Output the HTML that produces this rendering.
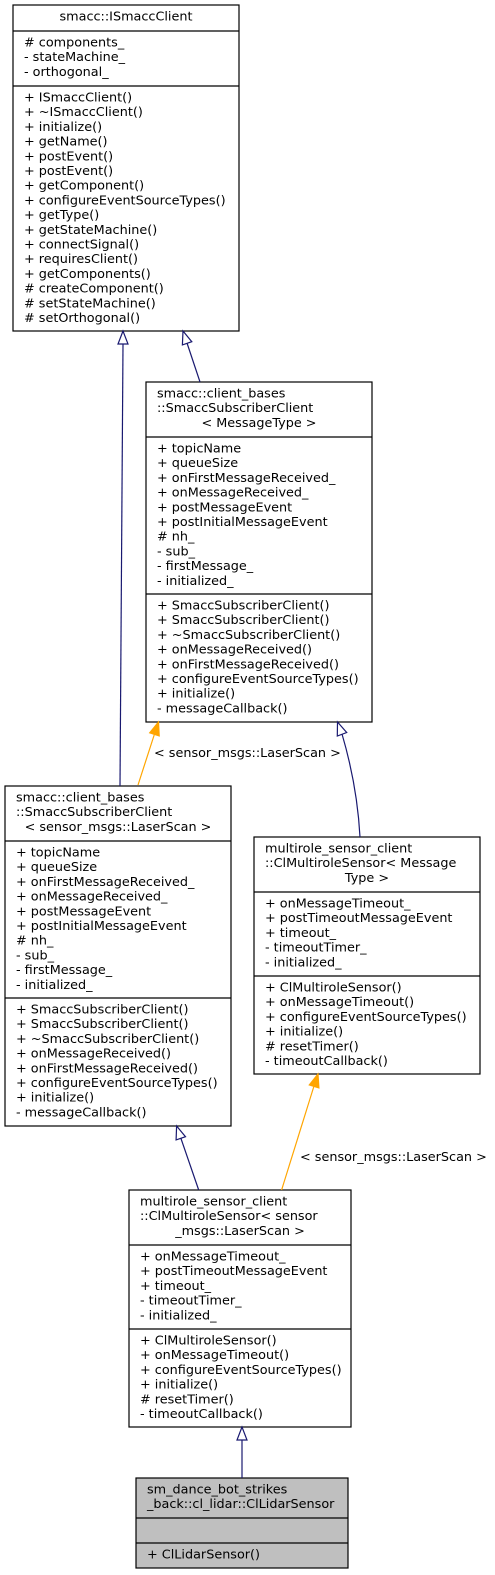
<!DOCTYPE html>
<html><head><meta charset="utf-8"><style>
html,body{margin:0;padding:0;background:#fff;}
svg{display:block;}
text{font-family:"DejaVu Sans","Liberation Sans",sans-serif;font-size:12.8px;fill:#000;}
</style></head><body>
<svg width="495" height="1575" viewBox="0 0 495 1575" xmlns="http://www.w3.org/2000/svg">
<g fill="#fff" stroke="#000" stroke-width="1.2">
<rect x="13" y="5" width="226" height="326"/>
<line x1="13" y1="31" x2="239" y2="31"/><line x1="13" y1="86" x2="239" y2="86"/>
<rect x="146" y="382" width="226" height="340"/>
<line x1="146" y1="437" x2="372" y2="437"/><line x1="146" y1="594" x2="372" y2="594"/>
<rect x="5" y="786" width="226" height="340"/>
<line x1="5" y1="841" x2="231" y2="841"/><line x1="5" y1="998" x2="231" y2="998"/>
<rect x="254" y="837" width="226" height="237"/>
<line x1="254" y1="892" x2="480" y2="892"/><line x1="254" y1="976" x2="480" y2="976"/>
<rect x="129" y="1190" width="222" height="237"/>
<line x1="129" y1="1245" x2="351" y2="1245"/><line x1="129" y1="1329" x2="351" y2="1329"/>
<rect x="136" y="1478" width="212" height="90" fill="#bfbfbf"/>
<line x1="136" y1="1518" x2="348" y2="1518"/><line x1="136" y1="1543" x2="348" y2="1543"/>
</g>
<!-- edges -->
<g fill="none" stroke-width="1.2">
<path d="M120,786 L123,344" stroke="#191970"/>
<path d="M200,382 L187,343" stroke="#191970"/>
<path d="M138,785 L154.5,734" stroke="#ffa500"/>
<path d="M360,837 C358,800 352,768 342,734" stroke="#191970"/>
<path d="M198.7,1190 L180.8,1138" stroke="#191970"/>
<path d="M281.6,1190 L314,1086" stroke="#ffa500"/>
<path d="M242,1478 L242,1440" stroke="#191970"/>
</g>
<g stroke-width="1.2">
<polygon points="123,331 118,344 128,344" fill="#fff" stroke="#191970"/>
<polygon points="183,331 191.8,341.7 182.4,344.9" fill="#fff" stroke="#191970"/>
<polygon points="158.5,722 159.2,735.9 149.7,732.8" fill="#ffa500" stroke="#ffa500"/>
<polygon points="337.5,722 346.7,732.5 337.3,736" fill="#fff" stroke="#191970"/>
<polygon points="176.6,1126 185.5,1136.7 176.1,1139.9" fill="#fff" stroke="#191970"/>
<polygon points="318,1074 318.9,1087.9 309.3,1084.9" fill="#ffa500" stroke="#ffa500"/>
<polygon points="242,1427 237,1440 247,1440" fill="#fff" stroke="#191970"/>
</g>
<text x="154" y="757">&lt; sensor_msgs::LaserScan &gt;</text>
<text x="300" y="1161">&lt; sensor_msgs::LaserScan &gt;</text>

<!-- Box A -->
<text x="126" y="20.5" text-anchor="middle">smacc::ISmaccClient</text>
<text x="24" y="46.5"><tspan x="24">#&#160;components_</tspan><tspan x="24" dy="14.7">-&#160;stateMachine_</tspan><tspan x="24" dy="14.7">-&#160;orthogonal_</tspan></text>
<text x="24" y="101.5"><tspan x="24">+&#160;ISmaccClient()</tspan><tspan x="24" dy="14.7">+&#160;~ISmaccClient()</tspan><tspan x="24" dy="14.7">+&#160;initialize()</tspan><tspan x="24" dy="14.7">+&#160;getName()</tspan><tspan x="24" dy="14.7">+&#160;postEvent()</tspan><tspan x="24" dy="14.7">+&#160;postEvent()</tspan><tspan x="24" dy="14.7">+&#160;getComponent()</tspan><tspan x="24" dy="14.7">+&#160;configureEventSourceTypes()</tspan><tspan x="24" dy="14.7">+&#160;getType()</tspan><tspan x="24" dy="14.7">+&#160;getStateMachine()</tspan><tspan x="24" dy="14.7">+&#160;connectSignal()</tspan><tspan x="24" dy="14.7">+&#160;requiresClient()</tspan><tspan x="24" dy="14.7">+&#160;getComponents()</tspan><tspan x="24" dy="14.7">#&#160;createComponent()</tspan><tspan x="24" dy="14.7">#&#160;setStateMachine()</tspan><tspan x="24" dy="14.7">#&#160;setOrthogonal()</tspan></text>

<!-- Box B -->
<text x="157" y="397.5"><tspan x="157">smacc::client_bases</tspan><tspan x="157" dy="14.7">::SmaccSubscriberClient</tspan></text>
<text x="259" y="426.9" text-anchor="middle">&lt; MessageType &gt;</text>
<text x="157" y="452.5"><tspan x="157">+&#160;topicName</tspan><tspan x="157" dy="14.7">+&#160;queueSize</tspan><tspan x="157" dy="14.7">+&#160;onFirstMessageReceived_</tspan><tspan x="157" dy="14.7">+&#160;onMessageReceived_</tspan><tspan x="157" dy="14.7">+&#160;postMessageEvent</tspan><tspan x="157" dy="14.7">+&#160;postInitialMessageEvent</tspan><tspan x="157" dy="14.7">#&#160;nh_</tspan><tspan x="157" dy="14.7">-&#160;sub_</tspan><tspan x="157" dy="14.7">-&#160;firstMessage_</tspan><tspan x="157" dy="14.7">-&#160;initialized_</tspan></text>
<text x="157" y="609.5"><tspan x="157">+&#160;SmaccSubscriberClient()</tspan><tspan x="157" dy="14.7">+&#160;SmaccSubscriberClient()</tspan><tspan x="157" dy="14.7">+&#160;~SmaccSubscriberClient()</tspan><tspan x="157" dy="14.7">+&#160;onMessageReceived()</tspan><tspan x="157" dy="14.7">+&#160;onFirstMessageReceived()</tspan><tspan x="157" dy="14.7">+&#160;configureEventSourceTypes()</tspan><tspan x="157" dy="14.7">+&#160;initialize()</tspan><tspan x="157" dy="14.7">-&#160;messageCallback()</tspan></text>

<!-- Box C -->
<text x="16" y="801.5"><tspan x="16">smacc::client_bases</tspan><tspan x="16" dy="14.7">::SmaccSubscriberClient</tspan></text>
<text x="118" y="830.9" text-anchor="middle">&lt; sensor_msgs::LaserScan &gt;</text>
<text x="16" y="856.5"><tspan x="16">+&#160;topicName</tspan><tspan x="16" dy="14.7">+&#160;queueSize</tspan><tspan x="16" dy="14.7">+&#160;onFirstMessageReceived_</tspan><tspan x="16" dy="14.7">+&#160;onMessageReceived_</tspan><tspan x="16" dy="14.7">+&#160;postMessageEvent</tspan><tspan x="16" dy="14.7">+&#160;postInitialMessageEvent</tspan><tspan x="16" dy="14.7">#&#160;nh_</tspan><tspan x="16" dy="14.7">-&#160;sub_</tspan><tspan x="16" dy="14.7">-&#160;firstMessage_</tspan><tspan x="16" dy="14.7">-&#160;initialized_</tspan></text>
<text x="16" y="1013.5"><tspan x="16">+&#160;SmaccSubscriberClient()</tspan><tspan x="16" dy="14.7">+&#160;SmaccSubscriberClient()</tspan><tspan x="16" dy="14.7">+&#160;~SmaccSubscriberClient()</tspan><tspan x="16" dy="14.7">+&#160;onMessageReceived()</tspan><tspan x="16" dy="14.7">+&#160;onFirstMessageReceived()</tspan><tspan x="16" dy="14.7">+&#160;configureEventSourceTypes()</tspan><tspan x="16" dy="14.7">+&#160;initialize()</tspan><tspan x="16" dy="14.7">-&#160;messageCallback()</tspan></text>

<!-- Box D -->
<text x="265" y="852.5"><tspan x="265">multirole_sensor_client</tspan><tspan x="265" dy="14.7">::ClMultiroleSensor&lt; Message</tspan></text>
<text x="367" y="881.9" text-anchor="middle">Type &gt;</text>
<text x="265" y="907.5"><tspan x="265">+&#160;onMessageTimeout_</tspan><tspan x="265" dy="14.7">+&#160;postTimeoutMessageEvent</tspan><tspan x="265" dy="14.7">+&#160;timeout_</tspan><tspan x="265" dy="14.7">-&#160;timeoutTimer_</tspan><tspan x="265" dy="14.7">-&#160;initialized_</tspan></text>
<text x="265" y="991.5"><tspan x="265">+&#160;ClMultiroleSensor()</tspan><tspan x="265" dy="14.7">+&#160;onMessageTimeout()</tspan><tspan x="265" dy="14.7">+&#160;configureEventSourceTypes()</tspan><tspan x="265" dy="14.7">+&#160;initialize()</tspan><tspan x="265" dy="14.7">#&#160;resetTimer()</tspan><tspan x="265" dy="14.7">-&#160;timeoutCallback()</tspan></text>

<!-- Box E -->
<text x="140" y="1205.5"><tspan x="140">multirole_sensor_client</tspan><tspan x="140" dy="14.7">::ClMultiroleSensor&lt; sensor</tspan></text>
<text x="240" y="1234.9" text-anchor="middle">_msgs::LaserScan &gt;</text>
<text x="140" y="1260.5"><tspan x="140">+&#160;onMessageTimeout_</tspan><tspan x="140" dy="14.7">+&#160;postTimeoutMessageEvent</tspan><tspan x="140" dy="14.7">+&#160;timeout_</tspan><tspan x="140" dy="14.7">-&#160;timeoutTimer_</tspan><tspan x="140" dy="14.7">-&#160;initialized_</tspan></text>
<text x="140" y="1344.5"><tspan x="140">+&#160;ClMultiroleSensor()</tspan><tspan x="140" dy="14.7">+&#160;onMessageTimeout()</tspan><tspan x="140" dy="14.7">+&#160;configureEventSourceTypes()</tspan><tspan x="140" dy="14.7">+&#160;initialize()</tspan><tspan x="140" dy="14.7">#&#160;resetTimer()</tspan><tspan x="140" dy="14.7">-&#160;timeoutCallback()</tspan></text>

<!-- Box F -->
<text x="147" y="1493.5"><tspan x="147">sm_dance_bot_strikes</tspan><tspan x="147" dy="14.7">_back::cl_lidar::ClLidarSensor</tspan></text>
<text x="147" y="1558.5">+&#160;ClLidarSensor()</text>
</svg>
</body></html>
